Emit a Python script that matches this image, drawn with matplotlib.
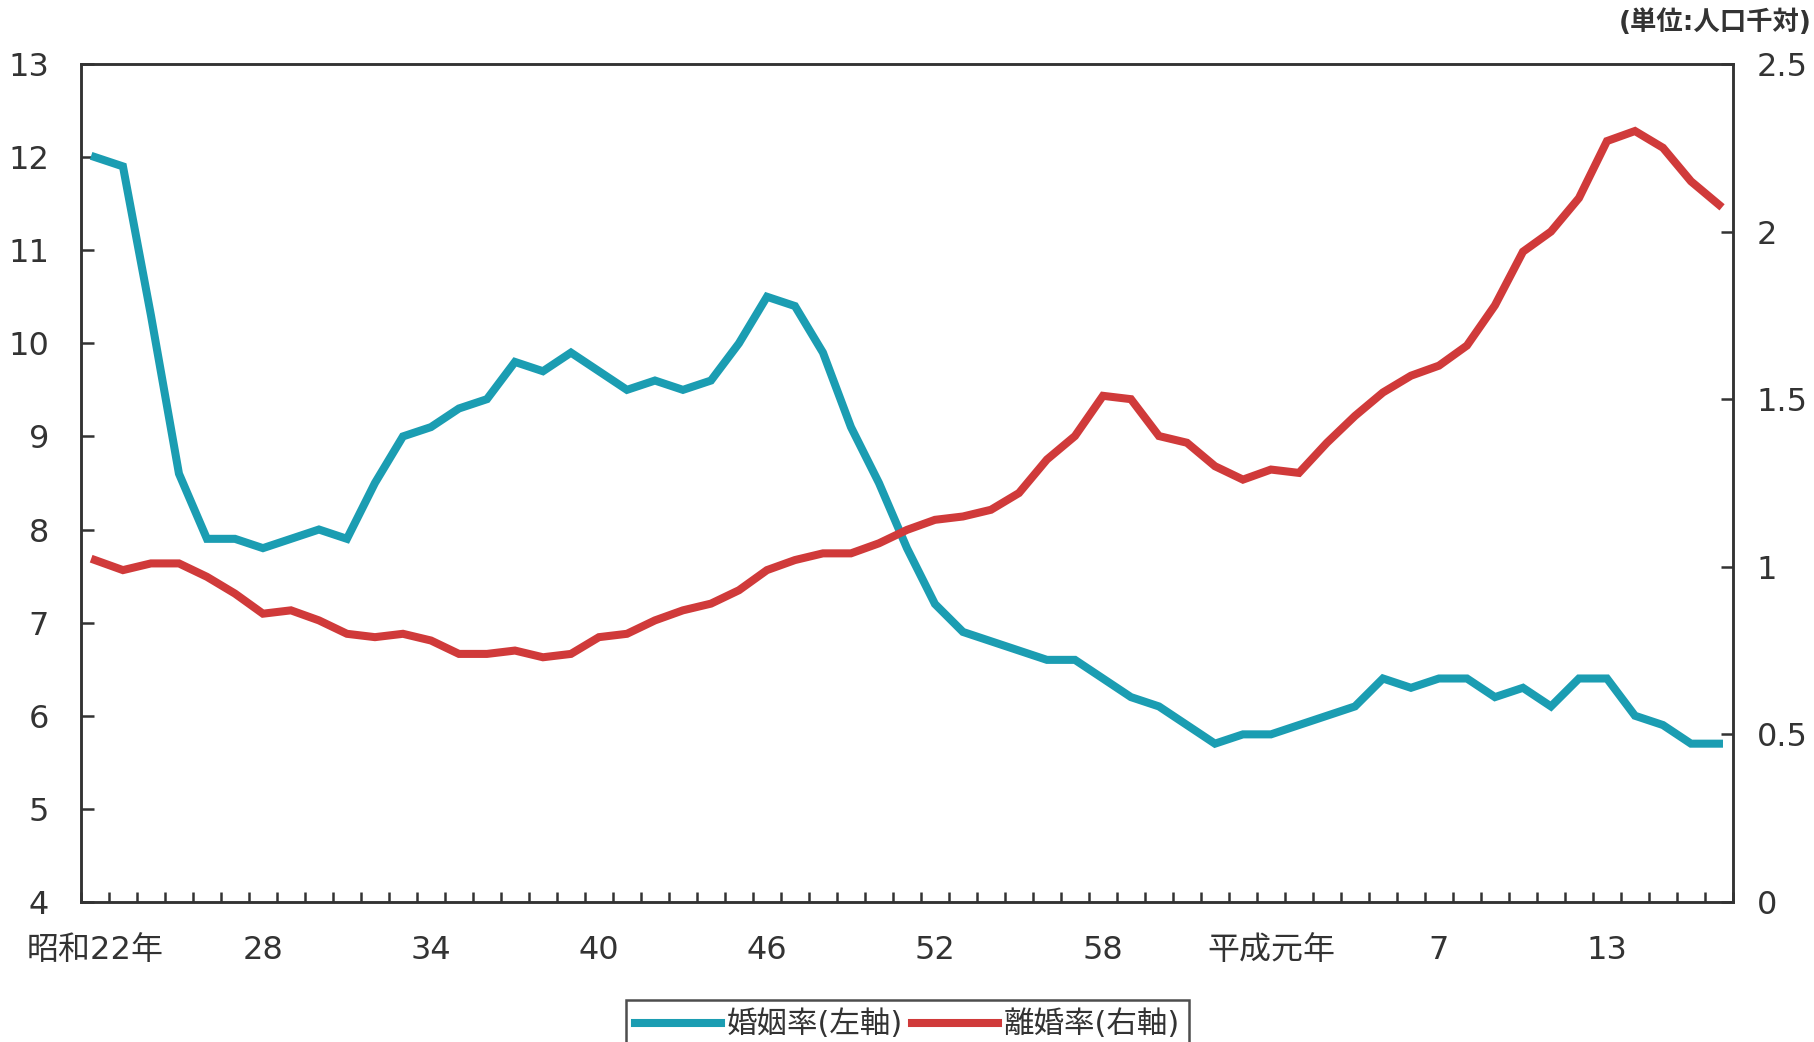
import matplotlib
matplotlib.use('Agg')
import matplotlib.pyplot as plt
import numpy as np

plt.rcParams['font.family'] = ['DejaVu Sans', 'Noto Sans CJK JP']

# 昭和22年(1947) ～ 平成17年(2005)
years = list(range(1947, 2006))

# 婚姻率(人口千対)
marriage = [12.0, 11.9, 10.3, 8.6, 7.9, 7.9, 7.8, 7.9, 8.0, 7.9,
            8.5, 9.0, 9.1, 9.3, 9.4, 9.8, 9.7, 9.9, 9.7, 9.5,
            9.6, 9.5, 9.6, 10.0, 10.5, 10.4, 9.9, 9.1, 8.5, 7.8,
            7.2, 6.9, 6.8, 6.7, 6.6, 6.6, 6.4, 6.2, 6.1, 5.9,
            5.7, 5.8, 5.8, 5.9, 6.0, 6.1, 6.4, 6.3, 6.4, 6.4,
            6.2, 6.3, 6.1, 6.4, 6.4, 6.0, 5.9, 5.7, 5.7]

# 離婚率(人口千対)
divorce = [1.02, 0.99, 1.01, 1.01, 0.97, 0.92, 0.86, 0.87, 0.84, 0.80,
           0.79, 0.80, 0.78, 0.74, 0.74, 0.75, 0.73, 0.74, 0.79, 0.80,
           0.84, 0.87, 0.89, 0.93, 0.99, 1.02, 1.04, 1.04, 1.07, 1.11,
           1.14, 1.15, 1.17, 1.22, 1.32, 1.39, 1.51, 1.50, 1.39, 1.37,
           1.30, 1.26, 1.29, 1.28, 1.37, 1.45, 1.52, 1.57, 1.60, 1.66,
           1.78, 1.94, 2.00, 2.10, 2.27, 2.30, 2.25, 2.15, 2.08]

label_years = [1947, 1953, 1959, 1965, 1971, 1977, 1983, 1989, 1995, 2001]
label_text = ['昭和22年', '28', '34', '40', '46', '52', '58', '平成元年', '7', '13']

teal = '#1b9db2'
red = '#d03a3a'
ink = '#333333'

fig = plt.figure(figsize=(18.15, 10.42), dpi=100)
ax = fig.add_axes([0.0446, 0.1344, 0.9102, 0.8042])
ax2 = ax.twinx()

l1, = ax.plot(years, marriage, color=teal, lw=5.8, solid_joinstyle='miter', label='婚姻率(左軸)')
l2, = ax2.plot(years, divorce, color=red, lw=5.8, solid_joinstyle='miter', label='離婚率(右軸)')

ax.set_xlim(1946.5, 2005.5)
ax.set_ylim(4, 13)
ax2.set_ylim(0, 2.5)

# 目盛り
ax.set_xticks(label_years)
ax.set_xticklabels(label_text)
ax.set_xticks(np.arange(1946.5, 2006, 1), minor=True)
ax.tick_params(axis='x', which='major', length=0, pad=24, labelsize=23, labelcolor=ink)
ax.tick_params(axis='x', which='minor', direction='in', length=7, width=1.8, color=ink)

ax.set_yticks(range(4, 14))
ax.tick_params(axis='y', direction='in', length=9, width=1.8, color=ink,
               pad=23, labelsize=23, labelcolor=ink)

ax2.set_yticks([0, 0.5, 1, 1.5, 2, 2.5])
ax2.set_yticklabels(['0', '0.5', '1', '1.5', '2', '2.5'])
ax2.tick_params(axis='y', direction='in', length=9, width=1.8, color=ink,
                pad=17, labelsize=23, labelcolor=ink)

for a in (ax, ax2):
    for s in a.spines.values():
        s.set_color(ink)
        s.set_linewidth(1.8)

fig.text(0.998, 0.978, '(単位:人口千対)', ha='right', va='center',
         fontsize=19, fontweight='bold', color=ink)

leg = fig.legend(handles=[l1, l2], loc='upper center', bbox_to_anchor=(0.5, 0.04),
                 ncol=2, fontsize=22, frameon=True, fancybox=False,
                 edgecolor='#222222', handlelength=2.8, handletextpad=0.2,
                 columnspacing=0.3, borderpad=0.3, borderaxespad=0)
leg.get_frame().set_linewidth(1.8)
for t in leg.get_texts():
    t.set_color(ink)

fig.savefig('out.png', dpi=100)
